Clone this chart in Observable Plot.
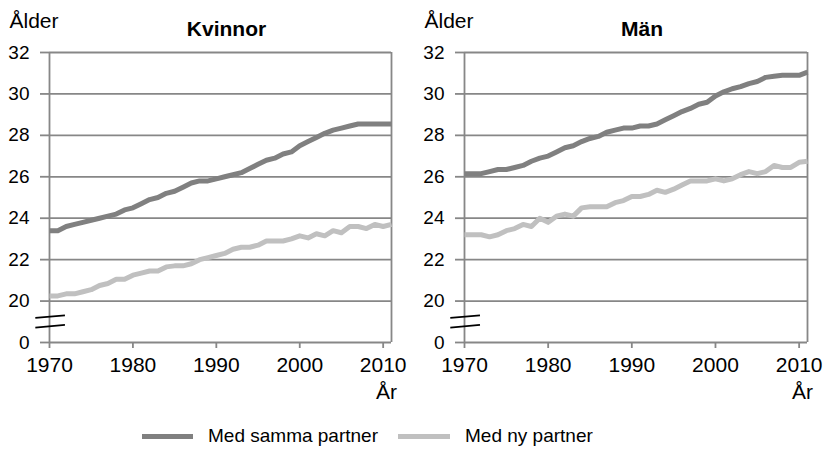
<!DOCTYPE html>
<html>
<head>
<meta charset="utf-8">
<script src="https://cdn.jsdelivr.net/npm/d3@7"></script>
<script src="https://cdn.jsdelivr.net/npm/@observablehq/plot@0.6"></script>
<style>
  html, body { margin: 0; padding: 0; background: #fff; }
  #root { position: relative; width: 826px; height: 457px; font-family: "Liberation Sans", Arial, sans-serif; }
  .panel { position: absolute; top: 0; }
  .sw { position: absolute; height: 5px; }
  .lt { position: absolute; font-size: 19px; line-height: 20px; color: #000; white-space: nowrap; }
</style>
</head>
<body>
<div id="root">
  <div id="k" class="panel" style="left:0px"></div>
  <div id="m" class="panel" style="left:413px"></div>
  <div class="sw" style="left:142px; top:434px; width:51px; background:#808080"></div>
  <div class="lt" style="left:208px; top:426px">Med samma partner</div>
  <div class="sw" style="left:398px; top:434px; width:52px; background:#c0c0c0"></div>
  <div class="lt" style="left:465px; top:426px">Med ny partner</div>
</div>
<script>
const years = d3.range(1970, 2012);
const seriesNames = ["Med samma partner", "Med ny partner"];
const panelTitles = ["Kvinnor", "Män"];
const yTickValues = [0, 20, 22, 24, 26, 28, 30, 32];
const xTickValues = [1970, 1980, 1990, 2000, 2010];

const kvinnorSamma = [23.4,23.4,23.6,23.7,23.8,23.9,24.0,24.1,24.2,24.4,24.5,24.7,24.9,25.0,25.2,25.3,25.5,25.7,25.8,25.8,25.9,26.0,26.1,26.2,26.4,26.6,26.8,26.9,27.1,27.2,27.5,27.7,27.9,28.1,28.25,28.35,28.45,28.55,28.55,28.55,28.55,28.55];
const kvinnorNy = [20.25,20.25,20.35,20.35,20.45,20.55,20.75,20.85,21.05,21.05,21.25,21.35,21.45,21.45,21.65,21.7,21.7,21.8,22.0,22.1,22.2,22.3,22.5,22.6,22.6,22.7,22.9,22.9,22.9,23.0,23.15,23.05,23.25,23.15,23.4,23.3,23.6,23.6,23.5,23.7,23.6,23.7];
const manSamma = [26.15,26.15,26.15,26.25,26.35,26.35,26.45,26.55,26.75,26.9,27.0,27.2,27.4,27.5,27.7,27.85,27.95,28.15,28.25,28.35,28.35,28.45,28.45,28.55,28.75,28.95,29.15,29.3,29.5,29.6,29.9,30.1,30.25,30.35,30.5,30.6,30.8,30.85,30.9,30.9,30.9,31.05];
const manNy = [23.2,23.2,23.2,23.1,23.2,23.4,23.5,23.7,23.6,24.0,23.8,24.1,24.2,24.1,24.5,24.55,24.55,24.55,24.75,24.85,25.05,25.05,25.15,25.35,25.25,25.4,25.6,25.8,25.8,25.8,25.9,25.8,25.9,26.1,26.25,26.15,26.25,26.55,26.45,26.45,26.7,26.75];

// Broken axis: 0 sits one step below 20
const toPos = v => v === 0 ? 0 : v - 18;
const posTicks = yTickValues.map(toPos);
const posLabel = p => p === 0 ? "0" : String(p + 18);

const colors = {"Med samma partner": "#808080", "Med ny partner": "#c0c0c0"};
const gridColor = "#878787";

function rows(samma, ny) {
  const out = [];
  years.forEach((y, i) => {
    out.push({year: y, series: seriesNames[0], v: samma[i]});
    out.push({year: y, series: seriesNames[1], v: ny[i]});
  });
  return out;
}

function panel(title, data, ml, mr) {
  return Plot.plot({
    width: 413,
    height: 400,
    marginLeft: ml,
    marginRight: mr,
    marginTop: 52,
    marginBottom: 58,
    style: {fontFamily: "'Liberation Sans', Arial, sans-serif", fontSize: "19px", color: "#000", background: "#fff", overflow: "visible"},
    x: {domain: [1970, 2011]},
    y: {domain: [0, 14]},
    marks: [
      Plot.ruleY(posTicks.filter(p => p > 0), {stroke: gridColor, strokeWidth: 1.8}),
      Plot.ruleY([0], {stroke: gridColor, strokeWidth: 1.8}),
      Plot.ruleX([1970, 2011], {y1: 0, y2: 14, stroke: gridColor, strokeWidth: 1.8}),
      Plot.axisY({ticks: posTicks, tickFormat: posLabel, tickSize: 9, tickPadding: 11, stroke: gridColor, strokeWidth: 1.8, strokeOpacity: 1, fill: "#000", label: null}),
      Plot.axisX({ticks: xTickValues, tickFormat: d => String(d), tickSize: 6, tickPadding: 9, stroke: gridColor, strokeWidth: 1.8, strokeOpacity: 1, fill: "#000", label: null, fontSize: 21}),
      Plot.line(data, {x: "year", y: d => toPos(d.v), z: "series", stroke: d => colors[d.series], strokeWidth: 5, strokeLinejoin: "round", strokeLinecap: "butt"}),
      Plot.link([0, 1], {x1: 1968.3, x2: 1971.85, y1: i => i ? 0.72 : 1.19, y2: i => i ? 0.85 : 1.31, stroke: "#000", strokeWidth: 1.6}),
      Plot.text(["Ålder"], {frameAnchor: "top-left", textAnchor: "start", lineAnchor: "bottom", dx: -40, dy: -25, fontSize: 21}),
      Plot.text([title], {frameAnchor: "top", lineAnchor: "bottom", dx: 6, dy: -17, fontSize: 21, fontWeight: "bold"}),
      Plot.text(["År"], {frameAnchor: "bottom-right", lineAnchor: "bottom", textAnchor: "middle", dx: -5, dy: 56, fontSize: 21})
    ]
  });
}

document.getElementById("k").append(panel(panelTitles[0], rows(kvinnorSamma, kvinnorNy), 49, 22));
document.getElementById("m").append(panel(panelTitles[1], rows(manSamma, manNy), 51, 19));
</script>
</body>
</html>
